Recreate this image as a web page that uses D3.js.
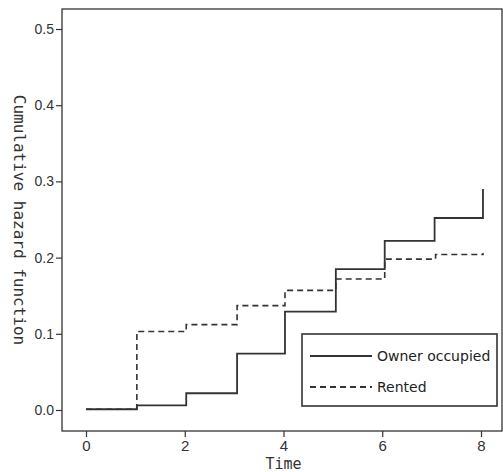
<!DOCTYPE html>
<html>
<head>
<meta charset="utf-8">
<script src="https://cdn.jsdelivr.net/npm/d3@7"></script>
<style>
  body { margin: 0; background: #fff; }
  svg { display: block; }
</style>
</head>
<body>
<div id="chart"></div>
<script>
// Data
let ownerTimes = [0, 1.03, 2.03, 3.06, 4.03, 5.06, 6.05, 7.06, 8.04];
let ownerValues = [0.001, 0.006, 0.022, 0.074, 0.129, 0.185, 0.222, 0.252, 0.290];
let rentedTimes = [0, 1.03, 2.03, 3.06, 4.03, 5.06, 6.05, 7.08, 8.04];
let rentedValues = [0.001, 0.103, 0.112, 0.137, 0.157, 0.172, 0.198, 0.204, 0.206];
let xTicks = [0, 2, 4, 6, 8];
let yTicks = [0, 0.1, 0.2, 0.3, 0.4, 0.5];
let legendLabels = ["Owner occupied", "Rented"];

// Size
let w = 503;
let h = 472;
let box = { left: 62, right: 502, top: 9, bottom: 431 };
let ink = "#333";

let xScale = d3.scaleLinear().domain([0, 8]).range([86, 481]);
let yScale = d3.scaleLinear().domain([0, 0.5]).range([410, 29]);

let svg = d3.select("#chart").append("svg").attr("width", w).attr("height", h);

// Plot frame
svg.append("rect")
  .attr("x", box.left)
  .attr("y", box.top)
  .attr("width", box.right - box.left)
  .attr("height", box.bottom - box.top)
  .attr("fill", "none")
  .attr("stroke", ink)
  .attr("stroke-width", 1.3);

// Axes
let yAxis = d3.axisLeft(yScale).tickValues(yTicks).tickSize(6).tickPadding(2).tickFormat(d3.format(".1f"));
let gy = svg.append("g").attr("transform", "translate(" + box.left + ",0)").call(yAxis);
let xAxis = d3.axisBottom(xScale).tickValues(xTicks).tickSize(6).tickPadding(3);
let gx = svg.append("g").attr("transform", "translate(0," + box.bottom + ")").call(xAxis);

[gy, gx].forEach((g) => {
  g.attr("font-family", "Liberation Sans");
  g.select(".domain").remove();
  g.selectAll(".tick line").attr("stroke", ink).attr("stroke-width", 1.2);
  g.selectAll(".tick text").attr("fill", ink);
});
gy.attr("font-size", "14px");
gx.attr("font-size", "15px");

// Axis titles
svg.append("text")
  .text("Cumulative hazard function")
  .attr("transform", "translate(14,220) rotate(90)")
  .attr("text-anchor", "middle")
  .attr("font-family", "DejaVu Sans Mono")
  .attr("font-size", "16px")
  .attr("fill", ink);

svg.append("text")
  .text("Time")
  .attr("x", xScale(4))
  .attr("y", 469)
  .attr("text-anchor", "middle")
  .attr("font-family", "DejaVu Sans Mono")
  .attr("font-size", "15px")
  .attr("fill", ink);

// Step lines
let line = d3.line()
  .x((d) => xScale(d[0]))
  .y((d) => yScale(d[1]))
  .curve(d3.curveStepAfter);

svg.append("path")
  .datum(d3.zip(rentedTimes, rentedValues))
  .attr("d", line)
  .attr("fill", "none")
  .attr("stroke", ink)
  .attr("stroke-width", 1.6)
  .attr("stroke-dasharray", "6,4");

svg.append("path")
  .datum(d3.zip(ownerTimes, ownerValues))
  .attr("d", line)
  .attr("fill", "none")
  .attr("stroke", ink)
  .attr("stroke-width", 1.8);

// Legend
let legend = svg.append("g");
legend.append("rect")
  .attr("x", 302)
  .attr("y", 334)
  .attr("width", 195)
  .attr("height", 72)
  .attr("fill", "#fff")
  .attr("stroke", ink)
  .attr("stroke-width", 1.6);

legendLabels.forEach((label, i) => {
  let ly = 356 + i * 31;
  legend.append("line")
    .attr("x1", 310)
    .attr("x2", 372)
    .attr("y1", ly)
    .attr("y2", ly)
    .attr("stroke", ink)
    .attr("stroke-width", 1.8)
    .attr("stroke-dasharray", i === 0 ? null : "6,4");
  legend.append("text")
    .text(label)
    .attr("x", 377)
    .attr("y", ly + 5)
    .attr("font-family", "DejaVu Sans")
    .attr("font-size", "14px")
    .attr("fill", "#222");
});
</script>
</body>
</html>
